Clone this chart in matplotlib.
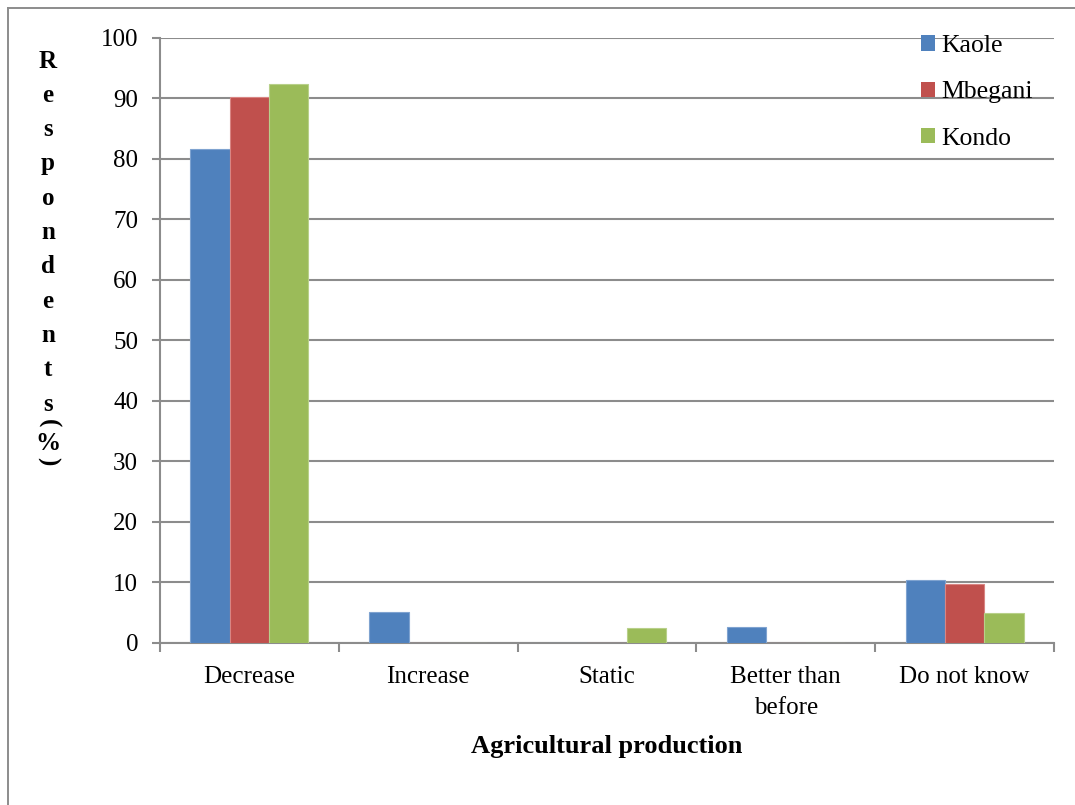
import matplotlib.pyplot as plt
from matplotlib.lines import Line2D
from matplotlib.patches import Patch
import numpy as np

plt.rcParams['font.family'] = ['Liberation Serif', 'DejaVu Serif']

categories = ['Decrease', 'Increase', 'Static', 'Better than\nbefore', 'Do not know']
series_names = ['Kaole', 'Mbegani', 'Kondo']
kaole = [81.7, 5.1, 0, 2.5, 10.3]
mbegani = [90.2, 0, 0, 0, 9.7]
kondo = [92.4, 0, 2.4, 0, 4.9]
colors = ['#4F81BD', '#C0504D', '#9BBB59']
edges = ['#7FA3D0', '#D98583', '#B8D08A']

W, H = 1075, 805
fs = 18
fig = plt.figure(figsize=(W / 100, H / 100), dpi=100)
ax = fig.add_axes([160 / W, 1 - 642.5 / H, (1054 - 160) / W, (642.5 - 38) / H])

grid_col = '#8C8C8C'
x = np.arange(len(categories))
bw = 0.22
for i, vals in enumerate([kaole, mbegani, kondo]):
    ax.bar(x + (i - 1) * bw, vals, bw, color=colors[i], edgecolor=edges[i],
           linewidth=0.8, zorder=3)

ax.set_xlim(-0.5, len(categories) - 0.5)
ax.set_ylim(0, 100)
ax.set_yticks(np.arange(0, 101, 10))
ax.yaxis.grid(True, color=grid_col, linewidth=1.5, zorder=0)
ax.set_axisbelow(True)

# boundary ticks on the category axis, labels at the centres
ax.set_xticks(np.arange(-0.5, len(categories), 1.0))
ax.set_xticklabels([])
ax.set_xticks(x, minor=True)
ax.set_xticklabels(categories, minor=True, fontsize=fs, linespacing=1.5)
ax.tick_params(axis='x', which='major', length=6.5, width=1.5, color=grid_col)
ax.tick_params(axis='x', which='minor', length=0, pad=17)
ax.tick_params(axis='y', length=5.8, width=1.5, color=grid_col, labelsize=fs, pad=10)

for s in ['top', 'right']:
    ax.spines[s].set_visible(False)
for s in ['left', 'bottom']:
    ax.spines[s].set_color(grid_col)
    ax.spines[s].set_linewidth(1.5)

ax.set_xlabel('Agricultural production', fontsize=19, fontweight='bold', labelpad=12)

# stacked y label
letters = list('Respondents')
for k, ch in enumerate(letters):
    fig.text(48 / W, 1 - (61 + k * 34.3) / H, ch, fontsize=fs, fontweight='bold',
             ha='center', va='center')
fig.text(48 / W, 1 - 423 / H, '(', fontsize=fs, fontweight='bold',
         ha='center', va='center', rotation=-90)
fig.text(48 / W, 1 - 443 / H, '%', fontsize=fs, fontweight='bold',
         ha='center', va='center')
fig.text(48 / W, 1 - 461 / H, ')', fontsize=fs, fontweight='bold',
         ha='center', va='center', rotation=-90)

handles = [Patch(facecolor=c, edgecolor='none') for c in colors]
fig.legend(handles, series_names, loc='upper left',
           bbox_to_anchor=(921 / W, 1 - 35 / H), frameon=False, fontsize=18.5,
           handlelength=0.55, handleheight=0.55, handletextpad=0.25,
           labelspacing=0.95, borderpad=0, borderaxespad=0)

# outer chart frame
fig.add_artist(Line2D([8 / W, 8 / W], [0, 1 - 8 / H], color=grid_col, linewidth=1.4))
fig.add_artist(Line2D([8 / W, 1], [1 - 8 / H, 1 - 8 / H], color=grid_col, linewidth=1.4))

fig.savefig('out.png', dpi=100)
